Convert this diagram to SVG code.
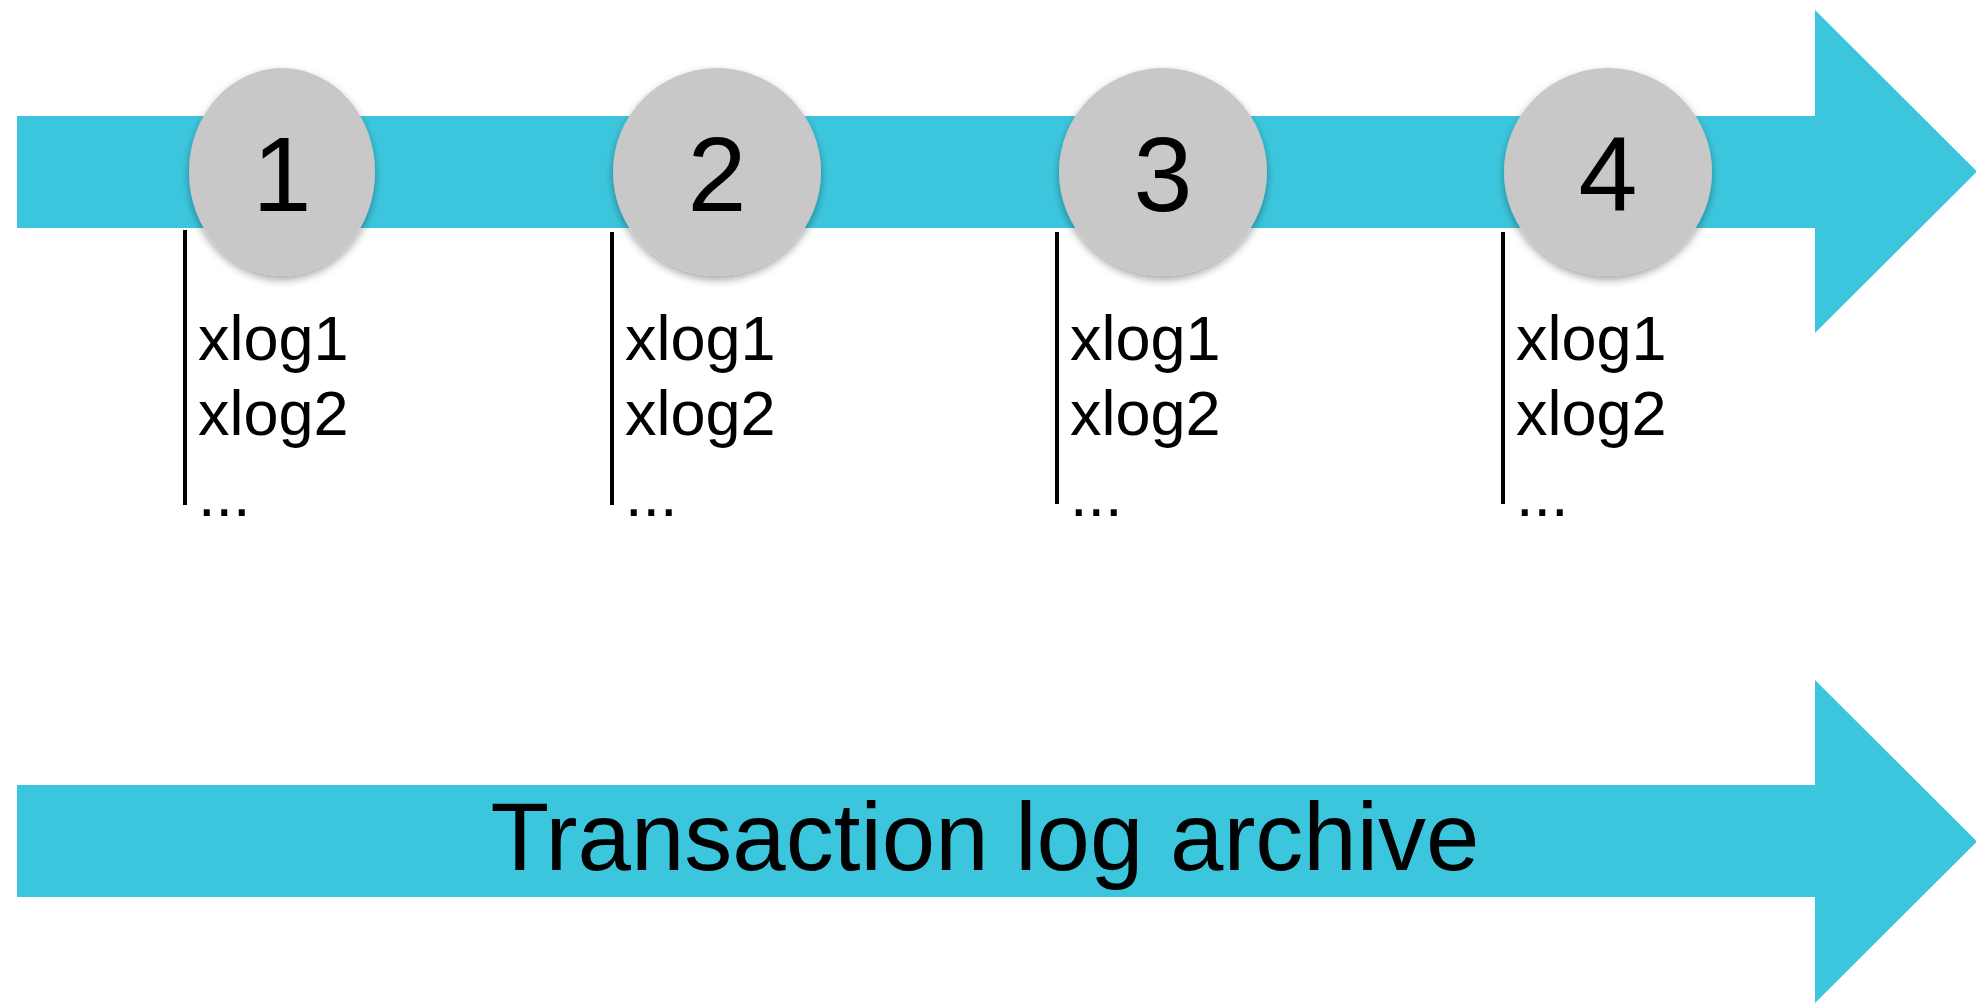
<svg xmlns="http://www.w3.org/2000/svg" width="1976" height="1003" viewBox="0 0 1976 1003">
  <style>
    .band { fill: #3cc6dd; }
    .node { fill: #c8c8c8; filter: url(#soft); }
    .num { font-family: "Liberation Sans", Arial, sans-serif; font-size: 106px; fill: #000; text-anchor: middle; }
    .log { font-family: "Liberation Sans", Arial, sans-serif; font-size: 63px; fill: #000; }
    .title { font-family: "Liberation Sans", Arial, sans-serif; font-size: 96px; fill: #000; text-anchor: middle; }
    .tick { stroke: #000; stroke-width: 4; }
  </style>
  <defs>
    <filter id="soft" x="-20%" y="-20%" width="140%" height="150%">
      <feGaussianBlur in="SourceAlpha" stdDeviation="4"/>
      <feOffset dy="4" result="b"/>
      <feComponentTransfer><feFuncA type="linear" slope="0.35"/></feComponentTransfer>
      <feMerge><feMergeNode/><feMergeNode in="SourceGraphic"/></feMerge>
    </filter>
  </defs>
  <rect width="1976" height="1003" fill="#fff"/>

  <!-- timeline arrows and the tick lines under each checkpoint -->
  <g id="connectors">
    <path id="timeline" class="band" d="M17 116 H1815 V10 L1977 171.5 L1815 333 V228 H17 Z"/>
    <path id="archive-arrow" class="band" d="M17 785 H1815 V680 L1977 841.5 L1815 1003 V897 H17 Z"/>
    <line class="tick" x1="185" y1="230" x2="185" y2="505"/>
    <line class="tick" x1="612" y1="232" x2="612" y2="505"/>
    <line class="tick" x1="1057" y1="232" x2="1057" y2="504"/>
    <line class="tick" x1="1503" y1="232" x2="1503" y2="504"/>
  </g>

  <g id="node-1">
    <ellipse class="node" cx="282" cy="172" rx="93" ry="104"/>
    <text class="num" x="282" y="211">1</text>
  </g>
  <g id="node-2">
    <circle class="node" cx="717" cy="172" r="104"/>
    <text class="num" x="717" y="211">2</text>
  </g>
  <g id="node-3">
    <circle class="node" cx="1163" cy="172" r="104"/>
    <text class="num" x="1163" y="211">3</text>
  </g>
  <g id="node-4">
    <circle class="node" cx="1608" cy="172" r="104"/>
    <text class="num" x="1608" y="211">4</text>
  </g>

  <g id="logs-1" class="log">
    <text x="198" y="360">xlog1</text>
    <text x="198" y="435">xlog2</text>
    <text x="198" y="516">...</text>
  </g>
  <g id="logs-2" class="log">
    <text x="625" y="360">xlog1</text>
    <text x="625" y="435">xlog2</text>
    <text x="625" y="516">...</text>
  </g>
  <g id="logs-3" class="log">
    <text x="1070" y="360">xlog1</text>
    <text x="1070" y="435">xlog2</text>
    <text x="1070" y="516">...</text>
  </g>
  <g id="logs-4" class="log">
    <text x="1516" y="360">xlog1</text>
    <text x="1516" y="435">xlog2</text>
    <text x="1516" y="516">...</text>
  </g>

  <g id="archive-label">
    <text class="title" x="985" y="870">Transaction log archive</text>
  </g>
</svg>
